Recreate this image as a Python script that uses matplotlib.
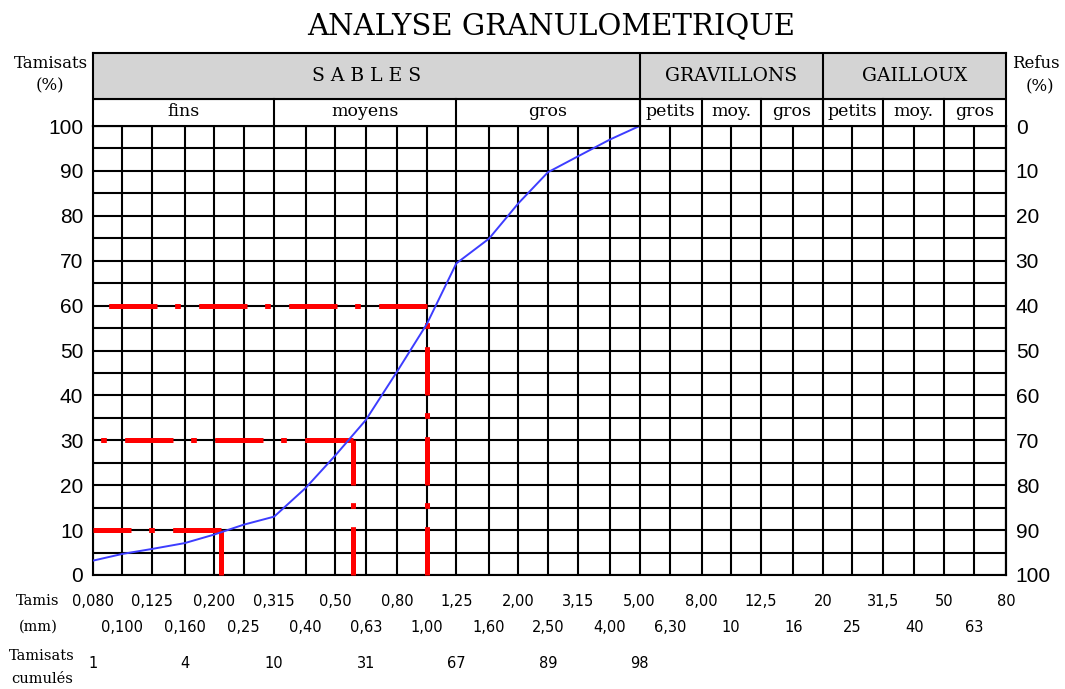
#!/usr/bin/env python3
# plot.py
# Courbe d'analyse granulometrique (tamisats cumules) avec D10 / D30 / D60
import matplotlib
matplotlib.use("Agg")
import matplotlib.pyplot as plt
import matplotlib.transforms as mtransforms

# Tamis normalises (mm)
tamis = [0.080, 0.100, 0.125, 0.160, 0.200, 0.25, 0.315, 0.40, 0.50, 0.63,
         0.80, 1.00, 1.25, 1.60, 2.00, 2.50, 3.15, 4.00, 5.00, 6.30,
         8.00, 10, 12.5, 16, 20, 25, 31.5, 40, 50, 63, 80]
tamis_labels = ["0,080", "0,100", "0,125", "0,160", "0,200", "0,25", "0,315", "0,40",
                "0,50", "0,63", "0,80", "1,00", "1,25", "1,60", "2,00", "2,50",
                "3,15", "4,00", "5,00", "6,30", "8,00", "10", "12,5", "16",
                "20", "25", "31,5", "40", "50", "63", "80"]

# Courbe (tamisats en %)
courbe_mm = [0.080, 0.100, 0.125, 0.160, 0.200, 0.25, 0.315, 0.40, 0.50, 0.63,
             0.80, 1.00, 1.25, 1.60, 2.00, 2.50, 3.15, 4.00, 5.00]
courbe_pct = [3.2, 4.7, 5.8, 7.1, 9.0, 11.2, 13.0, 19.4, 26.6, 34.5,
              45.4, 55.9, 69.4, 74.9, 82.8, 89.7, 93.3, 97.0, 100]

# Ligne "Tamisats cumules"
cumul_mm = [0.080, 0.160, 0.315, 0.63, 1.25, 2.50, 5.00]
cumul_pct = [1, 4, 10, 31, 67, 89, 98]

# Lectures D10, D30, D60
d_pct = [10, 30, 60]
d_mm = [0.21, 0.57, 1.00]

# Classes granulaires
classes = ["S A B L E S", "GRAVILLONS", "GAILLOUX"]
classes_lim = [0.080, 5.00, 20, 80]
sous_classes = ["fins", "moyens", "gros", "petits", "moy.", "gros", "petits", "moy.", "gros"]
sous_lim = [0.080, 0.315, 1.25, 5.00, 8.00, 12.5, 20, 31.5, 50, 80]

niveaux = list(range(0, 101, 5))
graduations = list(range(0, 101, 10))

W, H = 1065, 689
SERIF = "DejaVu Serif"

plt.rcParams['font.family'] = 'DejaVu Sans'
plt.rcParams['lines.scale_dashes'] = False

fig = plt.figure(figsize=(W / 100, H / 100), dpi=100)

# Zone du graphe
ax = fig.add_axes([93 / W, 1 - 575 / H, 913 / W, 449 / H])
ax.set_xscale('log')
ax.set_xlim(tamis[0], tamis[-1])
ax.set_ylim(0, 100)
ax.set_xticks([])
ax.set_xticks([], minor=True)

for x in tamis:
    ax.axvline(x, color='black', lw=1.5, zorder=1)
for y in niveaux:
    ax.axhline(y, color='black', lw=1.5, zorder=1)
for s in ax.spines.values():
    s.set_linewidth(1.5)

ax.set_yticks(graduations)
ax.tick_params(axis='y', length=0, pad=7, labelsize=15)
for lab in ax.get_yticklabels():
    lab.set_fontfamily('Liberation Sans')

refus = ax.secondary_yaxis('right', functions=(lambda y: 100 - y, lambda r: 100 - r))
refus.set_yticks(graduations)
refus.tick_params(length=0, pad=7, labelsize=15)
refus.spines['right'].set_linewidth(1.5)
for lab in refus.get_yticklabels():
    lab.set_fontfamily('Liberation Sans')

# D10 / D30 / D60 en trait mixte rouge
tiret = (0, (34.8, 13.2, 4.1, 12.7))
for p, d in zip(d_pct, d_mm):
    ax.plot([d, tamis[0]], [p, p], color='red', lw=3.6, ls=tiret, clip_on=False, zorder=3)
    ax.plot([d, d], [0, p], color='red', lw=3.6, ls=tiret, clip_on=False, zorder=3)

# Courbe granulometrique
ax.plot(courbe_mm, courbe_pct, color='#3d3dff', lw=1.4, zorder=4)

# En-tete (classes / sous-classes)
hx = fig.add_axes([93 / W, 1 - 126 / H, 913 / W, 73 / H])
hx.set_xscale('log')
hx.set_xlim(tamis[0], tamis[-1])
hx.set_ylim(0, 73)
hx.set_xticks([])
hx.set_xticks([], minor=True)
hx.set_yticks([])
hx.axhspan(27, 73, color='#d4d4d4', zorder=0)
hx.axhline(27, color='black', lw=1.5)
for s in hx.spines.values():
    s.set_linewidth(1.5)
for x in classes_lim[1:-1]:
    hx.plot([x, x], [0, 73], color='black', lw=1.5)
for x in sous_lim[1:-1]:
    hx.plot([x, x], [0, 27], color='black', lw=1.5)
for i, nom in enumerate(classes):
    xc = (classes_lim[i] * classes_lim[i + 1]) ** 0.5
    hx.text(xc, 50, nom, ha='center', va='center', fontsize=13.5, family=SERIF)
for i, nom in enumerate(sous_classes):
    xc = (sous_lim[i] * sous_lim[i + 1]) ** 0.5
    hx.text(xc, 14, nom, ha='center', va='center', fontsize=12.5, family=SERIF)

# Titre et legendes d'axes
fig.text(551 / W, 1 - 26 / H, "ANALYSE GRANULOMETRIQUE", ha='center', va='center',
         fontsize=21, family=SERIF)
fig.text(51 / W, 1 - 63 / H, "Tamisats", ha='center', va='center', fontsize=12, family=SERIF)
fig.text(50 / W, 1 - 86 / H, "(%)", ha='center', va='center', fontsize=12, family=SERIF)
fig.text(1036 / W, 1 - 63 / H, "Refus", ha='center', va='center', fontsize=12, family=SERIF)
fig.text(1040 / W, 1 - 87 / H, "(%)", ha='center', va='center', fontsize=12, family=SERIF)

fig.text(38 / W, 1 - 601 / H, "Tamis", ha='center', va='center', fontsize=10.5, family=SERIF)
fig.text(38 / W, 1 - 627 / H, "(mm)", ha='center', va='center', fontsize=10.5, family=SERIF)
fig.text(42 / W, 1 - 656 / H, "Tamisats", ha='center', va='center', fontsize=10.5, family=SERIF)
fig.text(42 / W, 1 - 679 / H, "cumulés", ha='center', va='center', fontsize=10.5, family=SERIF)

# Valeurs des tamis et tamisats cumules sous le graphe
trans = mtransforms.blended_transform_factory(ax.transData, fig.transFigure)
for i, (x, lab) in enumerate(zip(tamis, tamis_labels)):
    y = 1 - 601 / H if i % 2 == 0 else 1 - 627 / H
    ax.text(x, y, lab, transform=trans, ha='center', va='center', fontsize=10.5, clip_on=False)
for x, v in zip(cumul_mm, cumul_pct):
    ax.text(x, 1 - 663 / H, str(v), transform=trans, ha='center', va='center',
            fontsize=10.5, clip_on=False)

fig.savefig("out.png", dpi=100)
